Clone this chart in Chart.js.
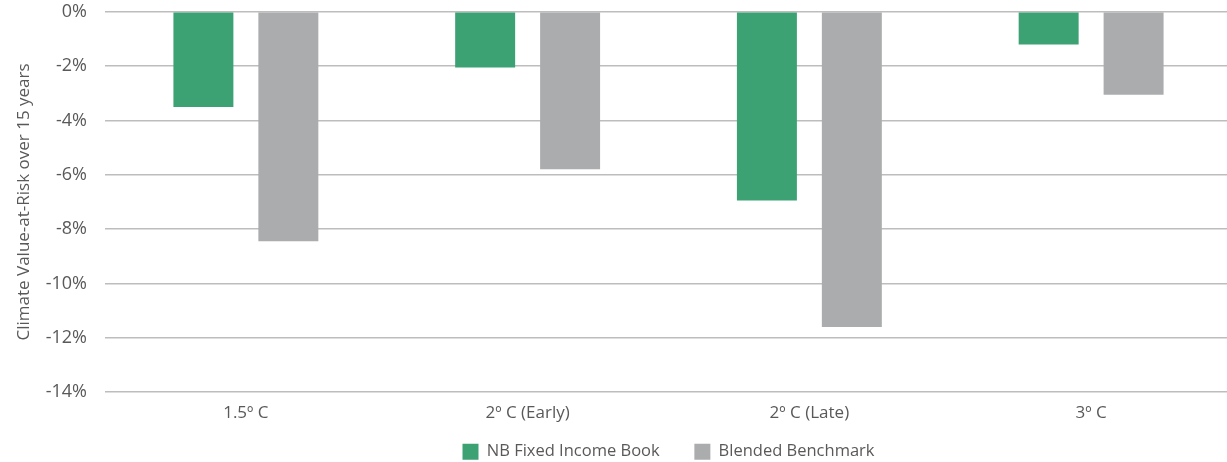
<!DOCTYPE html>
<html lang="en">
<head>
    <meta charset="UTF-8">
    <title>Climate Value-at-Risk</title>
    <script src="https://cdn.jsdelivr.net/npm/chart.js@4.4.0/dist/chart.umd.min.js"></script>
    <style>
        html, body { margin: 0; padding: 0; background: #fff; overflow: hidden; }
        #container { position: relative; width: 1232px; height: 487px; margin-top: -17px; }
    </style>
</head>
<body>
<div id="container">
    <canvas id="myChart"></canvas>
</div>

<script>
    // scenarios and climate VaR (%) over 15 years
    var scenarios = ['1.5º C', '2º C (Early)', '2º C (Late)', '3º C'];
    var nbFixedIncome = [-3.5, -2.05, -6.95, -1.2];
    var blendedBenchmark = [-8.45, -5.8, -11.6, -3.05];
    var yTicks = [0, -2, -4, -6, -8, -10, -12, -14];

    var textColor = '#595959';
    var fontFamily = '"Open Sans", "Noto Sans", sans-serif';

    var ctx = document.getElementById('myChart');

    var myBarChart = new Chart(ctx, {
        type: 'bar',
        data: {
            labels: scenarios,
            datasets: [
                {
                    label: 'NB Fixed Income Book',
                    data: nbFixedIncome,
                    backgroundColor: '#3ca274',
                    borderWidth: 0,
                    barPercentage: 0.706,
                    categoryPercentage: 0.603
                },
                {
                    label: 'Blended Benchmark',
                    data: blendedBenchmark,
                    backgroundColor: '#abacad',
                    borderWidth: 0,
                    barPercentage: 0.706,
                    categoryPercentage: 0.603
                }
            ]
        },
        options: {
            responsive: true,
            maintainAspectRatio: false,
            animation: false,
            layout: { padding: 0 },
            plugins: {
                tooltip: { enabled: false },
                legend: {
                    position: 'bottom',
                    fullSize: false,
                    labels: {
                        boxWidth: 16,
                        boxHeight: 16,
                        padding: 9,
                        color: textColor,
                        font: { family: fontFamily, size: 16.5 },
                        // wider gap after the first entry
                        generateLabels: function (chart) {
                            var items = Chart.defaults.plugins.legend.labels.generateLabels(chart);
                            items[0].text += '      ';
                            return items;
                        }
                    }
                }
            },
            scales: {
                x: {
                    grid: { display: false, drawTicks: false },
                    border: { display: false },
                    ticks: {
                        color: textColor,
                        padding: 11,
                        font: { family: fontFamily, size: 17 }
                    }
                },
                y: {
                    min: yTicks[yTicks.length - 1],
                    max: yTicks[0],
                    afterBuildTicks: function (scale) {
                        scale.ticks = yTicks.map(function (v) { return { value: v }; });
                    },
                    afterFit: function (scale) {
                        scale.width = 105;
                    },
                    grid: { color: '#bdbdbd', lineWidth: 1.5, drawTicks: false },
                    border: { display: false },
                    ticks: {
                        color: textColor,
                        padding: 18,
                        font: { family: fontFamily, size: 18 },
                        callback: function (v) { return v + '%'; }
                    },
                    title: {
                        display: true,
                        text: 'Climate Value-at-Risk over 15 years',
                        color: textColor,
                        padding: { top: 14, bottom: 0 },
                        font: { family: fontFamily, size: 17 }
                    }
                }
            }
        }
    });
</script>
</body>
</html>
